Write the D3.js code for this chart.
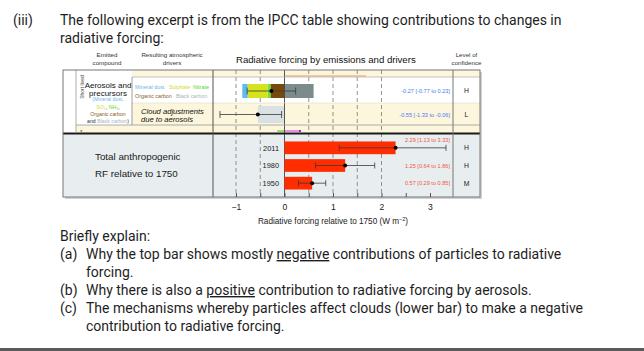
<!DOCTYPE html>
<html>
<head>
<meta charset="utf-8">
<script src="https://cdn.jsdelivr.net/npm/d3@7"></script>
<style>
  body { margin: 0; background: #fff; }
  svg { display: block; }
  .q { font-family: Roboto, "Open Sans", sans-serif; font-size: 14px; fill: #1e1e1e; }
  .c { font-family: "Liberation Sans", Arial, sans-serif; }
</style>
</head>
<body>
<div id="chart"></div>
<script>
// aerosol drivers, stacked in the top bar (W m-2)
const drivers = ['Mineral dust', 'Sulphate', 'Nitrate', 'Organic carbon', 'Black carbon'];
const driverRF = [-0.11, -0.41, -0.06, -0.29, 0.60];

// the two aerosol rows
const rowBest = [-0.27, -0.55];
const rowLow = [-0.77, -1.33];
const rowHigh = [0.23, -0.06];
const rowConf = ['H', 'L'];

// total anthropogenic RF
const years = ['2011', '1980', '1950'];
const totalBest = [2.29, 1.25, 0.57];
const totalLow = [1.13, 0.64, 0.29];
const totalHigh = [3.33, 1.86, 0.85];
const totalConf = ['H', 'H', 'M'];

const axisTicks = [-1, 0, 1, 2, 3];
const gridLines = [-1, -0.5, 0.5, 1, 1.5, 2];

// slivers of the rows cut off above and below the excerpt
const cutAbove = [0, 1.68];
const cutBelowGreen = [-0.15, 0];
const cutBelowPink = [0, 0.33];

const W = 644, H = 351;
const svg = d3.select('#chart').append('svg').attr('width', W).attr('height', H);

// ---------- question text ----------
svg.append('text').attr('class', 'q').attr('x', 13).attr('y', 25).text('(iii)');
svg.append('text').attr('class', 'q').attr('x', 60).attr('y', 25)
  .text('The following excerpt is from the IPCC table showing contributions to changes in');
svg.append('text').attr('class', 'q').attr('x', 60).attr('y', 43).text('radiative forcing:');

// ---------- table frame ----------
const L = 63, R = 480, T = 70, B = 197;
const cLabel = 76, cDriver = 132, cPlot = 213, cConf = 453;
const yA = [77, 103], yB = [103, 125], yCut = [125, 133], yTot = [134, B];

const x = d3.scaleLinear().domain([-1, 3]).range([236, 430]);

const tbl = svg.append('g').attr('class', 'c');

tbl.append('rect').attr('x', L + 2).attr('y', T + 2).attr('width', R - L).attr('height', B - T)
  .attr('fill', '#cfd3d5');
tbl.append('rect').attr('x', L).attr('y', T).attr('width', R - L).attr('height', B - T)
  .attr('fill', '#fff');

const cream = '#fcf6dd';
tbl.append('rect').attr('x', cDriver).attr('y', T).attr('width', R - cDriver).attr('height', yA[0] - T).attr('fill', cream);
tbl.append('rect').attr('x', cDriver).attr('y', yB[0]).attr('width', R - cDriver).attr('height', yB[1] - yB[0]).attr('fill', cream);
tbl.append('rect').attr('x', cLabel).attr('y', yCut[0]).attr('width', R - cLabel).attr('height', yCut[1] - yCut[0]).attr('fill', cream);
tbl.append('rect').attr('x', L).attr('y', yTot[0]).attr('width', R - L).attr('height', yTot[1] - yTot[0]).attr('fill', '#e8eef0');

// grid
tbl.selectAll('line.grid').data(gridLines).join('line')
  .attr('class', 'grid')
  .attr('x1', d => x(d)).attr('x2', d => x(d))
  .attr('y1', T).attr('y2', B)
  .attr('stroke', '#666').attr('stroke-width', 0.7).attr('stroke-dasharray', '4,3');

// ---------- cut-off rows ----------
tbl.append('line')
  .attr('x1', x(cutAbove[0])).attr('x2', x(cutAbove[1]))
  .attr('y1', 76).attr('y2', 76)
  .attr('stroke', '#e49a5c').attr('stroke-width', 1.2);
tbl.append('line')
  .attr('x1', x(cutBelowGreen[0])).attr('x2', x(cutBelowGreen[1]))
  .attr('y1', 131).attr('y2', 131)
  .attr('stroke', '#9ad878').attr('stroke-width', 2);
tbl.append('line')
  .attr('x1', x(cutBelowPink[0])).attr('x2', x(cutBelowPink[1]))
  .attr('y1', 131).attr('y2', 131)
  .attr('stroke', '#f08ae8').attr('stroke-width', 2);
tbl.append('rect').attr('x', x(cutBelowPink[1]) - 1.5).attr('y', 130).attr('width', 2).attr('height', 2).attr('fill', '#8a30c0');

svg.append('clipPath').attr('id', 'cutclip')
  .append('rect').attr('x', L).attr('y', yCut[0]).attr('width', cPlot - L).attr('height', yCut[1] - yCut[0] + 0.5);
const cutText = tbl.append('g').attr('clip-path', 'url(#cutclip)');
cutText.append('text').attr('x', 92).attr('y', 137.5).attr('font-size', 8).attr('fill', '#222').text('Carbon monoxide');
cutText.append('text').attr('x', 80).attr('y', 134).attr('font-size', 6).attr('fill', '#444').text('*');
cutText.append('text').attr('x', 68).attr('y', 135).attr('font-size', 7).attr('fill', '#666').text('—');

// ---------- aerosol bar ----------
const color = d3.scaleOrdinal().domain(drivers)
  .range(['#62b9ec', '#d5e21c', '#6ee23a', '#78490c', '#7c8b8b']);
const textColor = d3.scaleOrdinal().domain(drivers)
  .range(['#6ab6ea', '#d2dc1e', '#5ad82a', '#86641a', '#aab3bb']);

let neg = 0, pos = 0;
const segs = [];
for (let i = drivers.length - 1; i >= 0; i--) {
  const v = driverRF[i];
  if (v < 0) { segs.push({ d: drivers[i], x0: neg + v, x1: neg }); neg += v; }
  else { segs.push({ d: drivers[i], x0: pos, x1: pos + v }); pos += v; }
}
tbl.selectAll('rect.seg').data(segs).join('rect')
  .attr('class', 'seg')
  .attr('x', d => x(d.x0)).attr('width', d => x(d.x1) - x(d.x0))
  .attr('y', 84).attr('height', 14)
  .attr('fill', d => color(d.d));

// cloud adjustments bar
tbl.append('rect')
  .attr('x', x(rowBest[1])).attr('width', x(0) - x(rowBest[1]))
  .attr('y', 106).attr('height', 17)
  .attr('fill', '#d9e1e5');

// zero line
tbl.append('line').attr('x1', x(0)).attr('x2', x(0)).attr('y1', T).attr('y2', B)
  .attr('stroke', '#444').attr('stroke-width', 0.9);

// ---------- total bars ----------
const yTotal = d3.scaleBand().domain(years).range([139, 192]).paddingInner(0.28).paddingOuter(0.14);
tbl.selectAll('rect.tot').data(years).join('rect')
  .attr('class', 'tot')
  .attr('x', x(0)).attr('width', (d, i) => x(totalBest[i]) - x(0))
  .attr('y', d => yTotal(d)).attr('height', yTotal.bandwidth())
  .attr('fill', '#ff2d00');

// ---------- error bars ----------
const rowCenter = [91, 114.5];
function errBar(g, lo, hi, best, cy, cap) {
  g.append('line').attr('x1', x(lo)).attr('x2', x(hi)).attr('y1', cy).attr('y2', cy)
    .attr('stroke', '#3a3a3a').attr('stroke-width', 0.8);
  [lo, hi].forEach(v => g.append('line').attr('x1', x(v)).attr('x2', x(v))
    .attr('y1', cy - cap).attr('y2', cy + cap).attr('stroke', '#3a3a3a').attr('stroke-width', 0.8));
  g.append('circle').attr('cx', x(best)).attr('cy', cy).attr('r', 2).attr('fill', '#000');
}
rowBest.forEach((b, i) => errBar(tbl, rowLow[i], rowHigh[i], b, rowCenter[i], 3.5));
years.forEach((y, i) => errBar(tbl, totalLow[i], totalHigh[i], totalBest[i], yTotal(y) + yTotal.bandwidth() / 2, 3));

// ---------- value labels ----------
const fmt = v => v.toFixed(2);
rowBest.forEach((b, i) => {
  tbl.append('text').attr('x', 450).attr('y', rowCenter[i] + 2)
    .attr('text-anchor', 'end').attr('font-size', 5.6).attr('fill', '#4a7bf0')
    .text(`${fmt(b)} [${fmt(rowLow[i])} to ${fmt(rowHigh[i])}]`);
  tbl.append('text').attr('x', 466.5).attr('y', rowCenter[i] + 2.4)
    .attr('text-anchor', 'middle').attr('font-size', 6.8).attr('fill', '#222').text(rowConf[i]);
});
years.forEach((y, i) => {
  const cy = yTotal(y) + yTotal.bandwidth() / 2;
  const ty = totalHigh[i] > 2.9 ? cy - 5.5 : cy + 2;
  tbl.append('text').attr('x', 450).attr('y', ty)
    .attr('text-anchor', 'end').attr('font-size', 5.6).attr('fill', '#f2553c')
    .text(`${fmt(totalBest[i])} [${fmt(totalLow[i])} to ${fmt(totalHigh[i])}]`);
  tbl.append('text').attr('x', 466.5).attr('y', cy + 2.4)
    .attr('text-anchor', 'middle').attr('font-size', 6.8).attr('fill', '#222').text(totalConf[i]);
  tbl.append('text').attr('x', 279).attr('y', cy + 2.7)
    .attr('text-anchor', 'end').attr('font-size', 7.4).attr('fill', '#222').text(y);
});

// ---------- table lines ----------
const hl = (x1, x2, y, c, w) => tbl.append('line').attr('x1', x1).attr('x2', x2).attr('y1', y).attr('y2', y).attr('stroke', c).attr('stroke-width', w || 0.8);
const vl = (xx, y1, y2, c, w) => tbl.append('line').attr('x1', xx).attr('x2', xx).attr('y1', y1).attr('y2', y2).attr('stroke', c).attr('stroke-width', w || 0.8);
hl(cDriver, R, yA[0], '#b5b5b5');
hl(cDriver, R, yB[0], '#dedbcc', 0.6);
hl(cLabel, R, yCut[0], '#9a9a9a');
hl(L, R, 133.5, '#1a1a1a', 1.8);
vl(cLabel, T, yCut[1], '#9a9a9a');
vl(cDriver, yA[0], yB[1], '#888');
vl(cPlot, T, B, '#555', 1);
vl(cConf, T, B, '#777', 1);
tbl.append('rect').attr('x', L).attr('y', T).attr('width', R - L).attr('height', B - T)
  .attr('fill', 'none').attr('stroke', '#777').attr('stroke-width', 1);

// ---------- axis ----------
const axis = d3.axisBottom(x)
  .tickValues(d3.range(-1, 3.01, 0.5))
  .tickSize(-4)
  .tickPadding(7)
  .tickFormat(d => Number.isInteger(d) && axisTicks.includes(d) ? (d < 0 ? '\u2212' + Math.abs(d) : d) : '');
const ag = tbl.append('g').attr('transform', `translate(0,${B})`).call(axis);
ag.select('.domain').remove();
ag.selectAll('line').attr('stroke', '#555');
ag.selectAll('text').attr('font-size', 8.6).attr('fill', '#222').attr('font-family', '"Liberation Sans", Arial, sans-serif');

const axLabel = tbl.append('text').attr('x', x(1)).attr('y', 223.5)
  .attr('text-anchor', 'middle').attr('font-size', 8.2).attr('fill', '#222');
axLabel.append('tspan').text('Radiative forcing relative to 1750 (W m');
axLabel.append('tspan').attr('font-size', 5.5).attr('dy', -3).text('\u22122');
axLabel.append('tspan').attr('dy', 3).text(')');

// ---------- headers ----------
const hdr = (txt, cx, y, size) => tbl.append('text').attr('x', cx).attr('y', y)
  .attr('text-anchor', 'middle').attr('font-size', size || 6.2).attr('fill', '#333').text(txt);
hdr('Emitted', 107, 57);
hdr('compound', 107, 64.5);
hdr('Resulting atmospheric', 172, 57);
hdr('drivers', 172, 64.5);
hdr('Level of', 466.5, 57);
hdr('confidence', 466.5, 64.5);
tbl.append('text').attr('x', 236).attr('y', 62.5).attr('font-size', 9.6).attr('fill', '#111')
  .text('Radiative forcing by emissions and drivers');

// ---------- row labels ----------
tbl.append('text').attr('transform', 'translate(84,87) rotate(-90)')
  .attr('text-anchor', 'middle').attr('font-size', 5).attr('fill', '#444').text('Short lived');
tbl.append('text').attr('x', 108).attr('y', 88).attr('text-anchor', 'middle')
  .attr('font-size', 8).attr('fill', '#111').text('Aerosols and');
tbl.append('text').attr('x', 108).attr('y', 95.5).attr('text-anchor', 'middle')
  .attr('font-size', 8).attr('fill', '#111').text('precursors');

const small = (y, parts) => {
  const t = tbl.append('text').attr('x', 108).attr('y', y).attr('text-anchor', 'middle').attr('font-size', 5.2);
  parts.forEach(p => t.append('tspan').attr('fill', p[1]).text(p[0]));
};
small(101, [['(Mineral dust,', textColor('Mineral dust')]]);
small(108.5, [['SO', textColor('Sulphate')], ['\u2082', textColor('Sulphate')], [', ', '#333'], ['NH\u2083', textColor('Nitrate')], [',', '#333']]);
small(116, [['Organic carbon', textColor('Organic carbon')]]);
small(123, [['and ', '#333'], ['Black carbon', textColor('Black carbon')], [')', '#333']]);

const drvText = [[135, 89, 'Mineral dust'], [169, 89, 'Sulphate'], [193, 89, 'Nitrate'], [135, 97.5, 'Organic carbon'], [176, 97.5, 'Black carbon']];
drvText.forEach(([tx, ty, d]) => tbl.append('text').attr('x', tx).attr('y', ty)
  .attr('font-size', 5.4).attr('fill', textColor(d)).text(d));

tbl.append('text').attr('x', 141).attr('y', 113.5).attr('font-size', 7.6).attr('font-style', 'italic')
  .attr('fill', '#111').text('Cloud adjustments');
tbl.append('text').attr('x', 141).attr('y', 121.5).attr('font-size', 7.6).attr('font-style', 'italic')
  .attr('fill', '#111').text('due to aerosols');

tbl.append('text').attr('x', 95).attr('y', 159.5).attr('font-size', 9.8).attr('fill', '#1a1a1a').text('Total anthropogenic');
tbl.append('text').attr('x', 95).attr('y', 176.5).attr('font-size', 9.8).attr('fill', '#1a1a1a').text('RF relative to 1750');

// ---------- questions ----------
const qLines = [
  { x: 60, y: 241, parts: [['Briefly explain:']] },
  { x: 60, y: 259, parts: [['(a)']] },
  { x: 86, y: 259, parts: [['Why the top bar shows mostly '], ['negative', true], [' contributions of particles to radiative']] },
  { x: 86, y: 277, parts: [['forcing.']] },
  { x: 60, y: 295, parts: [['(b)']] },
  { x: 86, y: 295, parts: [['Why there is also a '], ['positive', true], [' contribution to radiative forcing by aerosols.']] },
  { x: 60, y: 313, parts: [['(c)']] },
  { x: 86, y: 313, parts: [['The mechanisms whereby particles affect clouds (lower bar) to make a negative']] },
  { x: 86, y: 331, parts: [['contribution to radiative forcing.']] }
];
qLines.forEach(l => {
  const t = svg.append('text').attr('class', 'q').attr('x', l.x).attr('y', l.y);
  l.parts.forEach(p => {
    const s = t.append('tspan').text(p[0]);
    if (p[1]) s.style('text-decoration', 'underline');
  });
});

svg.append('rect').attr('x', 0).attr('y', 348).attr('width', W).attr('height', 3).attr('fill', '#5a5a5a');
</script>
</body>
</html>
